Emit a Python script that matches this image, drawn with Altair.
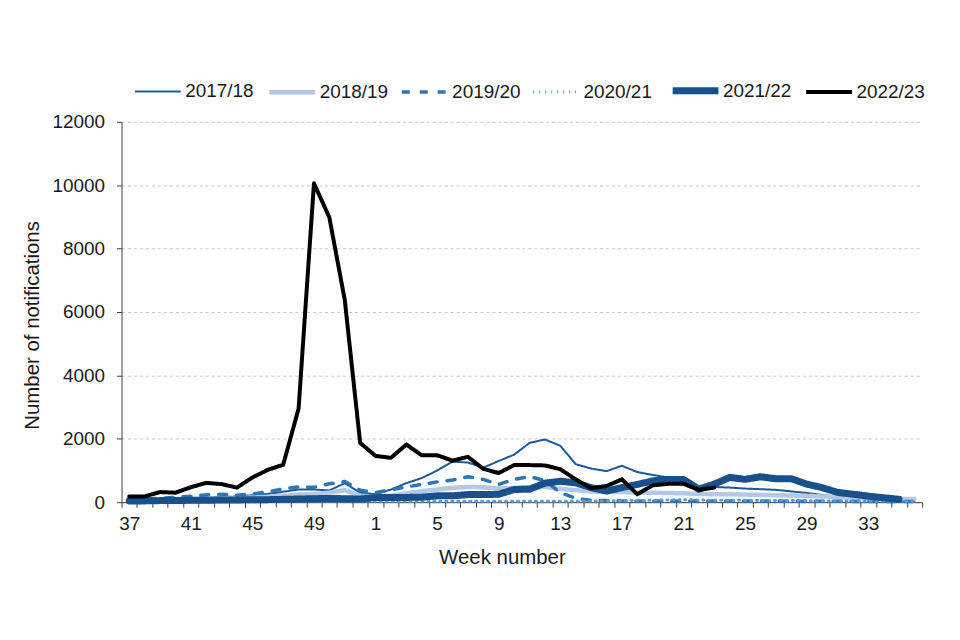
import altair as alt
import pandas as pd

weeks = list(range(37, 53)) + list(range(1, 37))
label_weeks = [37, 41, 45, 49, 1, 5, 9, 13, 17, 21, 25, 29, 33]

seasons = ["2017/18", "2018/19", "2019/20", "2020/21", "2021/22", "2022/23"]

v2017 = [50, 60, 80, 100, 120, 140, 160, 180, 220, 260, 330, 400, 400, 370, 600, 300,
         250, 400, 600, 760, 1000, 1280, 1250, 1090, 1300, 1500, 1870, 1980, 1780, 1200,
         1060, 980, 1150, 950, 860, 780, 720, 430, 480, 460, 430, 410, 390, 340, 290, 230,
         170, 120, 90, 60, 40, 30]
v2018 = [60, 70, 80, 90, 100, 110, 120, 130, 150, 170, 200, 240, 260, 300, 380, 200,
         180, 200, 280, 350, 400, 450, 480, 470, 430, 450, 470, 480, 420, 380, 340, 320,
         320, 300, 300, 290, 280, 260, 250, 250, 240, 230, 220, 210, 200, 180, 160, 140,
         120, 110, 100, 100]
v2019 = [90, 100, 120, 150, 190, 230, 250, 220, 260, 330, 420, 480, 470, 580, 650, 380,
         300, 390, 480, 560, 640, 700, 800, 720, 560, 720, 810, 680, 300, 120, 60, 50,
         40, 40, 40, 40, 40, 40, 40, 40, 35, 35, 35, 30, 30, 30, 30, 25, 25, 25, 20, 20]
v2020 = [40, 40, 40, 40, 40, 40, 40, 40, 40, 40, 40, 40, 40, 40, 40, 40,
         30, 30, 30, 30, 30, 30, 30, 30, 30, 30, 30, 30, 30, 30, 40, 40,
         50, 50, 60, 70, 80, 70, 60, 60, 60, 50, 50, 50, 50, 40, 40, 40, 40, 40, 30, 30]
v2021 = [40, 40, 50, 50, 60, 60, 70, 70, 80, 80, 90, 100, 110, 120, 110, 100,
         150, 150, 150, 160, 200, 200, 240, 240, 250, 400, 410, 600, 660, 610, 460, 350,
         460, 560, 670, 720, 720, 410, 570, 780, 720, 800, 740, 740, 570, 460, 310, 250,
         190, 140, 90, None]
v2022 = [180, 180, 320, 300, 470, 610, 570, 460, 780, 1020, 1180, 2950, 10060, 8980, 6380, 1870,
         1460, 1400, 1820, 1480, 1480, 1310, 1430, 1050, 920, 1170, 1170, 1160, 1040, 720,
         440, 510, 720, 250, 530, 580, 580, 390, 460, None, None, None, None, None, None,
         None, None, None, None, None, None, None]

series = [v2017, v2018, v2019, v2020, v2021, v2022]

colors = ["#1c5a96", "#b4c7e7", "#2e75b6", "#5b9bd5", "#17508a", "#000000"]
dashes = [[1, 0], [1, 0], [8, 10], [1, 5], [1, 0], [1, 0]]
widths = [2, 4.5, 3.5, 3, 7, 4]

rows = []
for s, vals in zip(seasons, series):
    for i, (w, v) in enumerate(zip(weeks, vals)):
        if v is not None:
            rows.append({"season": s, "pos": i + 0.5, "week": w, "value": v})
df = pd.DataFrame(rows)

n = len(weeks)
labels_js = "[" + ",".join("'" + (str(w) if w in label_weeks else "") + "'" for w in weeks) + "]"
label_expr = f"datum.value < {n} ? {labels_js}[datum.value] : ''"

FONT = "Liberation Sans"
TXT = "#1a1a1a"

chart = alt.Chart(df).mark_line(strokeCap="round", strokeJoin="round").encode(
    x=alt.X("pos:Q",
            scale=alt.Scale(domain=[0, n], nice=False, zero=False),
            axis=alt.Axis(values=list(range(n + 1)), labelExpr=label_expr,
                          labelOffset=7.7, labelOverlap=False, labelFlush=False,
                          labelAngle=0, labelFontSize=19, labelPadding=7,
                          tickSize=5, grid=False, title="Week number",
                          titleFontSize=20.5, titleFontWeight="normal",
                          titleX=382, titleY=62, titleAlign="center",
                          titleBaseline="alphabetic")),
    y=alt.Y("value:Q",
            scale=alt.Scale(domain=[0, 12000], nice=False),
            axis=alt.Axis(values=list(range(0, 12001, 2000)), format="d",
                          labelFontSize=19, labelPadding=12, tickSize=5,
                          grid=True, gridDash=[3, 3], gridColor="#c8c8c8",
                          title="Number of notifications", titleFontSize=20.5,
                          titleFontWeight="normal", titleAngle=270,
                          titleX=-83, titleY=204, titleAlign="center",
                          titleBaseline="alphabetic")),
    color=alt.Color("season:N", scale=alt.Scale(domain=seasons, range=colors),
                    legend=alt.Legend(orient="none", legendX=10, legendY=-58,
                                      direction="horizontal", columns=6, title=None,
                                      symbolType="stroke", symbolSize=2116,
                                      labelFontSize=19, labelOffset=1,
                                      columnPadding=6, labelFont=FONT,
                                      labelColor=TXT)),
    strokeDash=alt.StrokeDash("season:N", scale=alt.Scale(domain=seasons, range=dashes)),
    strokeWidth=alt.StrokeWidth("season:N", scale=alt.Scale(type="ordinal", domain=seasons, range=widths)),
).properties(
    width=804, height=382,
    autosize=alt.AutoSizeParams(type="none"),
    padding={"left": 114, "top": 113, "right": 30, "bottom": 110},
).configure_view(stroke=None).configure_axis(
    labelFont=FONT, titleFont=FONT, labelColor=TXT, titleColor=TXT,
    domainColor="#404040", tickColor="#404040"
)

chart.save("out.html", embed_options={"renderer": "svg", "actions": False})
